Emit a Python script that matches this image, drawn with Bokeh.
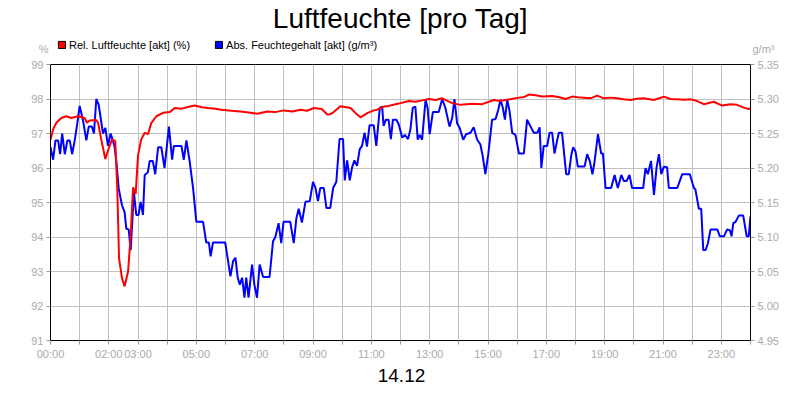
from bokeh.plotting import figure
from bokeh.layouts import column
from bokeh.models import (Range1d, LinearAxis, FixedTicker, PrintfTickFormatter, Label,
                          Legend, LegendItem)
from bokeh.embed import file_html
from bokeh.resources import INLINE

FONT = "Liberation Sans"

# ---------------- data ----------------
title_text = "Luftfeuchte [pro Tag]"
date_text = "14.12"
series_names = ["Rel. Luftfeuchte [akt] (%)", "Abs. Feuchtegehalt [akt] (g/m³)"]
unit_names = ["%", "g/m³"]

x_tick_hours = list(range(25))
x_tick_labels = ["00:00", "", "02:00", "03:00", "", "05:00", "", "07:00", "", "09:00", "",
                 "11:00", "", "13:00", "", "15:00", "", "17:00", "", "19:00", "", "21:00", "",
                 "23:00", ""]
left_ticks = [91, 92, 93, 94, 95, 96, 97, 98, 99]
right_ticks = [4.95, 5.00, 5.05, 5.10, 5.15, 5.20, 5.25, 5.30, 5.35]

red_hours = [0.0, 0.09, 0.2, 0.37, 0.54, 0.71, 0.94, 1.17, 1.25, 1.34, 1.57, 1.63, 1.74, 1.88,
             1.97, 2.11, 2.22, 2.29, 2.35, 2.45, 2.54, 2.66, 2.75, 2.83, 2.92, 3.0, 3.11, 3.23,
             3.34, 3.46, 3.63, 3.86, 4.09, 4.26, 4.5, 4.71, 4.94, 5.2, 5.4, 5.65, 5.86, 6.2,
             6.51, 6.8, 7.09, 7.43, 7.7, 8.0, 8.3, 8.57, 8.8, 9.03, 9.3, 9.49, 9.6, 9.71, 9.94,
             10.29, 10.46, 10.63, 10.86, 11.08, 11.2, 11.43, 11.6, 11.83, 12.0, 12.29, 12.51,
             12.75, 12.97, 13.2, 13.43, 13.77, 14.06, 14.46, 14.8, 15.2, 15.4, 15.6, 15.8,
             16.06, 16.25, 16.4, 16.63, 16.86, 17.2, 17.45, 17.66, 17.89, 18.17, 18.51, 18.74,
             18.97, 19.2, 19.43, 19.65, 19.89, 20.1, 20.34, 20.69, 21.03, 21.26, 21.5, 21.71,
             21.95, 22.17, 22.4, 22.74, 23.03, 23.31, 23.54, 23.77, 23.94, 24.0]
red_values = [96.81, 97.12, 97.31, 97.45, 97.5, 97.45, 97.5, 97.45, 97.31, 97.38, 97.39, 97.31,
              96.83, 96.26, 96.5, 96.83, 96.78, 95.4, 93.39, 92.81, 92.57, 93.0, 94.06, 95.44,
              95.25, 96.35, 96.83, 97.02, 96.98, 97.31, 97.5, 97.6, 97.62, 97.74, 97.72, 97.77,
              97.81, 97.76, 97.74, 97.72, 97.69, 97.66, 97.64, 97.61, 97.57, 97.64, 97.62,
              97.67, 97.64, 97.69, 97.66, 97.74, 97.71, 97.55, 97.56, 97.62, 97.79, 97.74,
              97.59, 97.47, 97.59, 97.67, 97.69, 97.78, 97.8, 97.85, 97.88, 97.94, 97.92,
              97.96, 98.0, 97.97, 98.02, 97.88, 97.83, 97.86, 97.85, 97.97, 97.94, 97.97,
              98.0, 98.04, 98.06, 98.13, 98.11, 98.07, 98.09, 98.05, 98.0, 98.07, 98.04, 98.02,
              98.1, 98.02, 98.04, 98.02, 97.99, 97.97, 98.01, 98.02, 97.97, 98.07, 98.0, 97.99,
              97.98, 97.99, 97.94, 97.85, 97.92, 97.81, 97.85, 97.83, 97.75, 97.71, 97.73]

blue_hours = [0.0, 0.09, 0.17, 0.26, 0.33, 0.40, 0.49, 0.58, 0.66, 0.74, 0.83, 0.92, 1.00, 1.11,
              1.23, 1.31, 1.42, 1.49, 1.57, 1.65, 1.80, 1.88, 1.97, 2.06, 2.14, 2.20, 2.26, 2.34,
              2.45, 2.54, 2.60, 2.68, 2.75, 2.79, 2.86, 2.94, 3.02, 3.09, 3.17, 3.23, 3.34, 3.40,
              3.51, 3.59, 3.69, 3.80, 3.91, 3.99, 4.06, 4.17, 4.23, 4.49, 4.57, 4.66, 4.77, 4.89,
              5.00, 5.23, 5.34, 5.43, 5.49, 5.57, 5.99, 6.07, 6.17, 6.26, 6.34, 6.42, 6.49, 6.57,
              6.65, 6.71, 6.79, 6.91, 6.99, 7.08, 7.17, 7.29, 7.51, 7.63, 7.71, 7.82, 7.91, 7.99,
              8.22, 8.34, 8.43, 8.51, 8.62, 8.74, 8.89, 9.00, 9.08, 9.17, 9.25, 9.37, 9.46, 9.59,
              9.69, 9.80, 9.91, 10.03, 10.09, 10.17, 10.26, 10.34, 10.42, 10.51, 10.60, 10.68,
              10.77, 10.85, 10.94, 11.08, 11.17, 11.29, 11.37, 11.42, 11.50, 11.59, 11.67, 11.74,
              11.86, 11.94, 12.06, 12.15, 12.26, 12.34, 12.42, 12.51, 12.59, 12.66, 12.74, 12.86,
              12.93, 13.00, 13.11, 13.31, 13.43, 13.54, 13.68, 13.77, 13.85, 13.94, 14.03, 14.15,
              14.25, 14.40, 14.51, 14.63, 14.74, 14.82, 14.91, 15.01, 15.14, 15.26, 15.35, 15.43,
              15.51, 15.58, 15.66, 15.74, 15.83, 15.94, 16.06, 16.23, 16.34, 16.46, 16.57, 16.69,
              16.77, 16.83, 16.91, 17.03, 17.11, 17.20, 17.28, 17.37, 17.43, 17.54, 17.68, 17.77,
              17.86, 17.92, 18.00, 18.08, 18.31, 18.40, 18.49, 18.58, 18.65, 18.77, 18.88, 18.94,
              19.03, 19.22, 19.34, 19.45, 19.57, 19.66, 19.75, 19.85, 19.94, 20.32, 20.40, 20.48,
              20.59, 20.69, 20.78, 20.86, 20.94, 21.03, 21.14, 21.20, 21.49, 21.66, 21.92, 22.06,
              22.11, 22.23, 22.31, 22.38, 22.46, 22.54, 22.63, 22.86, 22.95, 23.09, 23.20, 23.29,
              23.35, 23.41, 23.49, 23.60, 23.75, 23.87, 23.94, 24.00]
blue_values = [5.230, 5.212, 5.240, 5.240, 5.220, 5.250, 5.220, 5.240, 5.240, 5.220, 5.240, 5.265,
               5.290, 5.270, 5.240, 5.260, 5.260, 5.250, 5.300, 5.292, 5.250, 5.258, 5.232, 5.250,
               5.240, 5.230, 5.208, 5.170, 5.146, 5.136, 5.112, 5.111, 5.081, 5.112, 5.165, 5.132,
               5.132, 5.151, 5.132, 5.190, 5.194, 5.210, 5.210, 5.191, 5.230, 5.230, 5.200, 5.232,
               5.260, 5.212, 5.232, 5.232, 5.212, 5.240, 5.210, 5.170, 5.122, 5.122, 5.092, 5.092,
               5.072, 5.092, 5.092, 5.070, 5.043, 5.065, 5.070, 5.041, 5.031, 5.041, 5.012, 5.041,
               5.012, 5.060, 5.031, 5.012, 5.060, 5.042, 5.042, 5.094, 5.100, 5.120, 5.091, 5.122,
               5.122, 5.091, 5.127, 5.141, 5.121, 5.151, 5.152, 5.180, 5.172, 5.152, 5.171, 5.171,
               5.142, 5.142, 5.171, 5.180, 5.242, 5.242, 5.182, 5.211, 5.182, 5.201, 5.211, 5.203,
               5.227, 5.232, 5.251, 5.231, 5.262, 5.262, 5.232, 5.287, 5.289, 5.261, 5.270, 5.270,
               5.242, 5.270, 5.270, 5.263, 5.244, 5.248, 5.242, 5.256, 5.287, 5.289, 5.241, 5.248,
               5.241, 5.299, 5.287, 5.249, 5.281, 5.281, 5.300, 5.287, 5.260, 5.272, 5.300, 5.265,
               5.258, 5.241, 5.249, 5.251, 5.259, 5.241, 5.234, 5.217, 5.191, 5.220, 5.270, 5.271,
               5.284, 5.299, 5.287, 5.270, 5.299, 5.282, 5.251, 5.248, 5.221, 5.221, 5.270, 5.260,
               5.251, 5.251, 5.259, 5.200, 5.232, 5.232, 5.251, 5.251, 5.221, 5.240, 5.251, 5.251,
               5.191, 5.191, 5.220, 5.230, 5.224, 5.202, 5.202, 5.220, 5.210, 5.191, 5.208, 5.249,
               5.221, 5.221, 5.171, 5.171, 5.190, 5.171, 5.190, 5.181, 5.181, 5.190, 5.171, 5.171,
               5.200, 5.191, 5.210, 5.161, 5.201, 5.220, 5.191, 5.202, 5.201, 5.171, 5.171, 5.191,
               5.191, 5.171, 5.169, 5.141, 5.141, 5.081, 5.081, 5.091, 5.111, 5.111, 5.101, 5.101,
               5.111, 5.110, 5.101, 5.120, 5.122, 5.131, 5.131, 5.101, 5.101, 5.130]

W = 784
HEAD_H = 56
FOOT_H = 22
MAIN_H = 384 - HEAD_H - FOOT_H
BL, BR = 50, 34


def blank_fig(h):
    f = figure(width=W, height=h, output_backend="svg", toolbar_location=None, title=None,
               x_axis_type=None, y_axis_type=None,
               x_range=Range1d(0, 1), y_range=Range1d(0, h),
               min_border_left=BL, min_border_right=BR, min_border_top=0, min_border_bottom=0)
    f.grid.visible = False
    f.outline_line_color = None
    f.background_fill_color = "white"
    f.border_fill_color = "white"
    return f


# ---------------- header: title, legend, unit captions ----------------
head = blank_fig(HEAD_H)
head.add_layout(Label(x=350, y=38, x_units="screen", y_units="screen", text=title_text,
                      text_align="center", text_baseline="alphabetic", text_font=FONT,
                      text_font_size="28px", text_color="black"))

for side, unit in (("left", unit_names[0]), ("right", unit_names[1])):
    uax = LinearAxis(ticker=FixedTicker(ticks=[7.3]), major_label_overrides={7.3: unit},
                     axis_line_color=None, major_tick_line_color=None,
                     minor_tick_line_color=None, major_tick_out=0, major_tick_in=0,
                     major_label_standoff=2, major_label_text_color="#aaaaaa",
                     major_label_text_font=FONT, major_label_text_font_size="11px")
    head.add_layout(uax, side)

# swatch renderers sit outside the visible range; only their legend boxes show
sw_red = head.quad(left=[5], right=[6], top=[-5], bottom=[-6],
                   fill_color="#ff0000", line_color="black")
sw_blue = head.quad(left=[5], right=[6], top=[-5], bottom=[-6],
                    fill_color="#0000ff", line_color="black")
legend = Legend(items=[LegendItem(label=series_names[0], renderers=[sw_red]),
                       LegendItem(label=series_names[1], renderers=[sw_blue])],
                location=(7, 5.5), orientation="horizontal", padding=0, margin=0,
                spacing=24, label_standoff=3, glyph_width=9, glyph_height=9,
                label_height=0, label_text_font=FONT, label_text_font_size="11px",
                label_text_color="black", border_line_alpha=0, background_fill_alpha=0)
head.add_layout(legend)

# ---------------- main chart ----------------
p = figure(width=W, height=MAIN_H, output_backend="svg", toolbar_location=None, title=None,
           x_range=Range1d(0, 24), y_range=Range1d(91, 99),
           min_border_left=BL, min_border_right=BR, min_border_top=8, min_border_bottom=20)
p.extra_y_ranges = {"abs": Range1d(4.95, 5.35)}
p.background_fill_color = "white"
p.border_fill_color = "white"
p.outline_line_color = "black"
p.outline_line_alpha = 1
p.outline_line_width = 1

right_axis = LinearAxis(y_range_name="abs", ticker=FixedTicker(ticks=right_ticks),
                        formatter=PrintfTickFormatter(format="%.2f"))
p.add_layout(right_axis, "right")

p.xaxis.ticker = FixedTicker(ticks=x_tick_hours)
p.xaxis.major_label_overrides = {h: lbl for h, lbl in zip(x_tick_hours, x_tick_labels)}
p.yaxis[0].ticker = FixedTicker(ticks=left_ticks)

for ax in p.axis:
    ax.axis_line_color = "black"
    ax.major_tick_line_color = "#999999"
    ax.major_tick_out = 4
    ax.major_tick_in = 0
    ax.minor_tick_line_color = None
    ax.major_label_text_color = "#aaaaaa"
    ax.major_label_text_font = FONT
    ax.major_label_text_font_size = "11px"
    ax.major_label_standoff = 3

p.xgrid.ticker = FixedTicker(ticks=x_tick_hours)
p.ygrid.ticker = FixedTicker(ticks=left_ticks)
for g in (p.xgrid[0], p.ygrid[0]):
    g.grid_line_color = "#c0c0c0"
    g.grid_line_alpha = 1
    g.grid_line_width = 1

blue_r = p.line(blue_hours, blue_values, y_range_name="abs", line_color="#0000ff", line_width=2)
red_r = p.line(red_hours, red_values, line_color="#ff0000", line_width=2)

# ---------------- footer: date ----------------
foot = blank_fig(FOOT_H)
foot.add_layout(Label(x=351, y=9, x_units="screen", y_units="screen", text=date_text,
                      text_align="center", text_baseline="alphabetic", text_font=FONT,
                      text_font_size="19px", text_color="black"))

layout = column(head, p, foot, spacing=0)
open("out.html", "w").write(file_html(layout, INLINE))
